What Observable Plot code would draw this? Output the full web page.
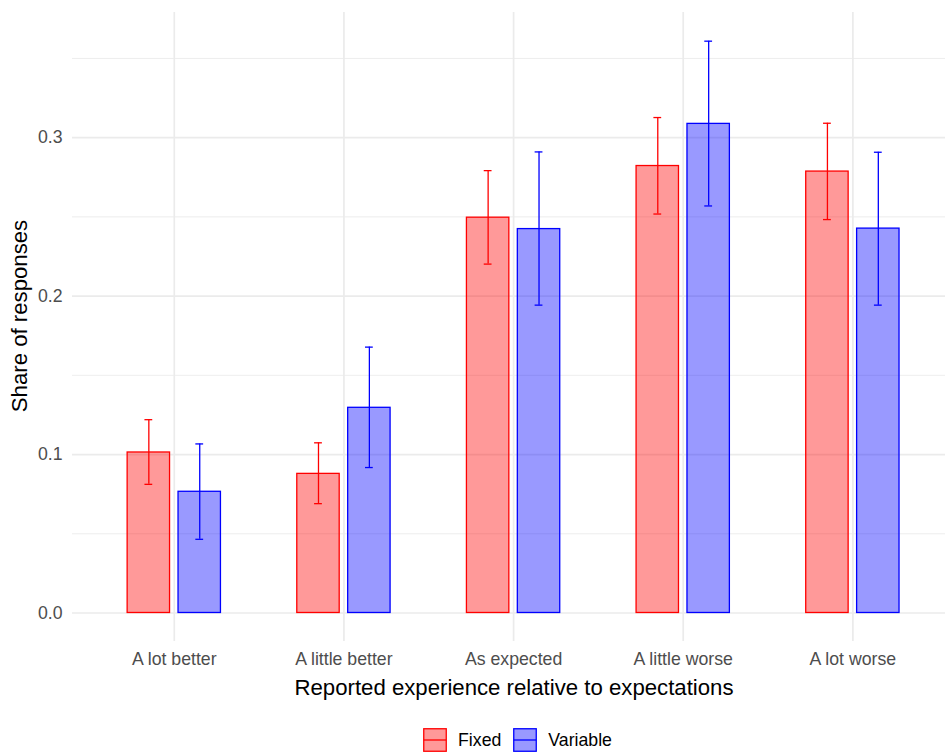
<!DOCTYPE html>
<html>
<head>
<meta charset="utf-8">
<script src="https://cdn.jsdelivr.net/npm/d3@7"></script>
<script src="https://cdn.jsdelivr.net/npm/@observablehq/plot@0.6"></script>
<style>
  html, body { margin: 0; padding: 0; background: white; }
  body { width: 945px; height: 752px; overflow: hidden; font-family: "Liberation Sans", Arial, sans-serif; }
  #legend { display: flex; justify-content: center; align-items: center; height: 24px; margin-top: 8px; padding-left: 90px; font-size: 17.7px; color: #000; }
  #legend .item { display: flex; align-items: center; margin: 0 6px; }
  #legend svg { margin-right: 11px; }
</style>
</head>
<body>
<div id="chart"></div>
<div id="legend"></div>
<script>
const categories = ["A lot better", "A little better", "As expected", "A little worse", "A lot worse"];
const groups = ["Fixed", "Variable"];
const colors = ["#FF0000", "#0000FF"];
const fixedShare = [0.1013, 0.0878, 0.2495, 0.2821, 0.2786];
const fixedLow = [0.0812, 0.0690, 0.2202, 0.2518, 0.2483];
const fixedHigh = [0.1220, 0.1074, 0.2792, 0.3127, 0.3091];
const variableShare = [0.0765, 0.1295, 0.2423, 0.3087, 0.2426];
const variableLow = [0.0465, 0.0918, 0.1943, 0.2569, 0.1943];
const variableHigh = [0.1067, 0.1678, 0.2910, 0.3609, 0.2908];
const yTicks = [0, 0.1, 0.2, 0.3];
const yMinor = [0.05, 0.15, 0.25, 0.35];

const dodge = 0.15, halfBar = 0.125, halfCap = 0.023;
const series = {Fixed: [fixedShare, fixedLow, fixedHigh], Variable: [variableShare, variableLow, variableHigh]};
const rows = categories.flatMap((c, i) => groups.map((g, j) => ({
  cat: c, idx: i + 1, group: g, pos: i + 1 + (j === 0 ? -dodge : dodge),
  share: series[g][0][i], lo: series[g][1][i], hi: series[g][2][i]
})));
const catIdx = categories.map((c, i) => i + 1);
const font = "'Liberation Sans', Arial, sans-serif";

const chart = Plot.plot({
  width: 945, height: 720,
  marginTop: 12, marginBottom: 79, marginLeft: 72, marginRight: 0,
  x: {type: "linear", domain: [0.4, 5.546]},
  y: {domain: [-0.018, 0.379]},
  color: {domain: groups, range: colors},
  style: {fontFamily: font, background: "white"},
  marks: [
    Plot.ruleY(yMinor, {stroke: "#EBEBEB", strokeWidth: 0.9}),
    Plot.ruleY(yTicks, {stroke: "#EBEBEB", strokeWidth: 1.7}),
    Plot.ruleX(catIdx, {stroke: "#EBEBEB", strokeWidth: 1.7}),
    Plot.rectY(rows, {x1: d => d.pos - halfBar, x2: d => d.pos + halfBar, y1: 0, y2: "share",
      fill: "group", fillOpacity: 0.4, stroke: "group", strokeWidth: 1.3}),
    Plot.ruleX(rows, {x: "pos", y1: "lo", y2: "hi", stroke: "group", strokeWidth: 1.3}),
    Plot.ruleY(rows, {y: "hi", x1: d => d.pos - halfCap, x2: d => d.pos + halfCap, stroke: "group", strokeWidth: 1.3}),
    Plot.ruleY(rows, {y: "lo", x1: d => d.pos - halfCap, x2: d => d.pos + halfCap, stroke: "group", strokeWidth: 1.3}),
    Plot.axisX(catIdx, {tickSize: 0, tickPadding: 11, tickFormat: i => categories[i - 1],
      fontSize: 17.7, color: "#4D4D4D", label: null}),
    Plot.axisY(yTicks, {tickSize: 0, tickPadding: 10, tickFormat: d3.format(".1f"),
      fontSize: 17.7, color: "#4D4D4D", label: null}),
    Plot.text(["Reported experience relative to expectations"], {frameAnchor: "bottom", dy: 46, dx: 5,
      lineAnchor: "middle", fontSize: 22.2, fill: "black", text: d => d}),
    Plot.text(["Share of responses"], {frameAnchor: "left", dx: -53, dy: -11, rotate: -90,
      textAnchor: "middle", lineAnchor: "middle", fontSize: 22.2, fill: "black", text: d => d})
  ]
});
document.getElementById("chart").appendChild(chart);

const legend = document.getElementById("legend");
groups.forEach((g, i) => {
  const item = document.createElement("div");
  item.className = "item";
  item.innerHTML = `<svg width="24" height="24"><rect x="0.75" y="0.75" width="22.5" height="22.5" fill="${colors[i]}" fill-opacity="0.4" stroke="${colors[i]}" stroke-width="1.3"/><line x1="0.75" x2="23.25" y1="12" y2="12" stroke="${colors[i]}" stroke-width="1.3"/></svg><span>${g}</span>`;
  legend.appendChild(item);
});
</script>
</body>
</html>
